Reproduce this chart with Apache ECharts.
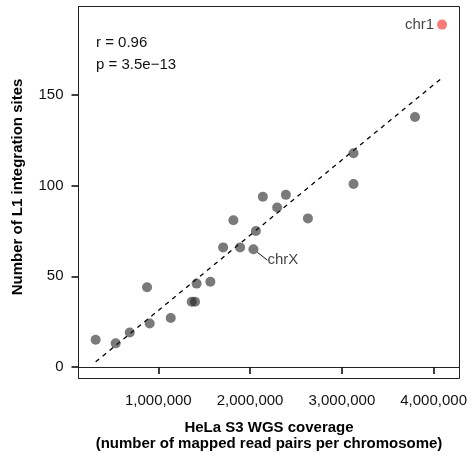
<!DOCTYPE html>
<html>
<head>
<meta charset="utf-8">
<script src="https://cdn.jsdelivr.net/npm/echarts@6/dist/echarts.min.js"></script>
<style>html,body{margin:0;padding:0;background:#fff}#c{width:472px;height:459px}</style>
</head>
<body>
<div id="c"></div>
<script>
// Chromosome labels (only named ones are annotated)
var chromNames = ['', '', '', '', '', '', '', '', '', '', '', '', '', 'chrX', '', '', '', '', '', '', '', ''];
// HeLa S3 WGS coverage (mapped read pairs per chromosome)
var coverage = [317000, 535000, 688000, 877000, 906000, 1135000, 1364000, 1400000, 1417000, 1567000, 1706000, 1818000, 1891000, 2036000, 2063000, 2139000, 2295000, 2390000, 2630000, 3127000, 3127000, 3797000];
// Number of L1 integration sites
var l1Sites = [15, 13, 19, 44, 24, 27, 36, 36, 46, 47, 66, 81, 66, 65, 75, 94, 88, 95, 82, 118, 101, 138];
// Highlighted chromosome
var chr1Point = {name: 'chr1', x: 4092000, y: 189};
// Fitted line end points
var fitX = [317000, 4092000];
var fitY = [2.8, 159.6];
// Axis ticks
var xTicks = [1000000, 2000000, 3000000, 4000000];
var yTicks = [0, 50, 100, 150];
var statsText = ['r = 0.96', 'p = 3.5e\u221213'];

var FONT = '"Liberation Sans", Arial, Helvetica, sans-serif';

var chart = echarts.init(document.getElementById('c'), null, {renderer: 'canvas'});

var scatterData = coverage.map(function (x, i) {
  var item = {value: [x, l1Sites[i]], name: chromNames[i]};
  if (chromNames[i]) {
    item.label = {
      show: true, formatter: chromNames[i], position: 'right', distance: 4,
      color: '#111', fontSize: 15, fontFamily: FONT
    };
    item.labelLine = {show: true, lineStyle: {color: '#111', width: 1}};
  }
  return item;
});

var option = {
  animation: false,
  backgroundColor: '#fff',
  grid: {left: 78.5, top: 6.5, width: 381, height: 372, show: true, borderColor: '#222', borderWidth: 1, backgroundColor: 'transparent'},
  xAxis: {
    type: 'value', min: 130000, max: 4282000,
    splitLine: {show: false},
    axisLine: {show: true, lineStyle: {color: '#222', width: 1}},
    axisTick: {show: true, length: 7, lineStyle: {color: '#111', width: 1.6}, customValues: xTicks},
    axisLabel: {
      customValues: xTicks, margin: 15, fontSize: 15, color: '#111', fontFamily: FONT,
      formatter: function (v) { return Math.round(v).toLocaleString('en-US'); }
    }
  },
  yAxis: {
    type: 'value', min: -6.4, max: 199,
    splitLine: {show: false},
    axisLine: {show: true, lineStyle: {color: '#222', width: 1}},
    axisTick: {show: true, length: 7, lineStyle: {color: '#111', width: 1.6}, customValues: yTicks},
    axisLabel: {customValues: yTicks, margin: 15, fontSize: 15, color: '#111', fontFamily: FONT}
  },
  series: [
    {
      type: 'line', data: fitX.map(function (x, i) { return [x, fitY[i]]; }),
      symbol: 'none', silent: true, z: 1,
      lineStyle: {color: '#000', width: 1.3, type: [4.5, 4.5]}
    },
    {
      type: 'scatter', data: scatterData, symbolSize: 10, z: 2,
      itemStyle: {color: 'rgba(30,30,30,0.74)'},
      labelLayout: function (params) {
        if (chromNames[params.dataIndex]) {
          return {dx: 5, dy: 11};
        }
        return {};
      }
    },
    {
      type: 'scatter', data: [{value: [chr1Point.x, chr1Point.y], name: chr1Point.name}], symbolSize: 10, z: 3,
      itemStyle: {color: '#fa5858'},
      label: {show: true, formatter: '{b}', position: 'left', distance: 3, color: '#111', fontSize: 15, fontFamily: FONT}
    }
  ],
  graphic: [
    {type: 'text', left: 96, top: 35, style: {text: statsText[0], font: '15px ' + FONT, fill: '#111'}},
    {type: 'text', left: 96, top: 57, style: {text: statsText[1], font: '15px ' + FONT, fill: '#111'}},
    {type: 'text', x: 269, y: 428, style: {text: 'HeLa S3 WGS coverage', font: 'bold 15px ' + FONT, fill: '#000', align: 'center', verticalAlign: 'middle'}},
    {type: 'text', x: 269, y: 444, style: {text: '(number of mapped read pairs per chromosome)', font: 'bold 15px ' + FONT, fill: '#000', align: 'center', verticalAlign: 'middle'}},
    {type: 'text', x: 18, y: 187, rotation: Math.PI / 2, style: {text: 'Number of L1 integration sites', font: 'bold 15px ' + FONT, fill: '#000', align: 'center', verticalAlign: 'middle'}}
  ]
};
chart.setOption(option);
</script>
</body>
</html>
